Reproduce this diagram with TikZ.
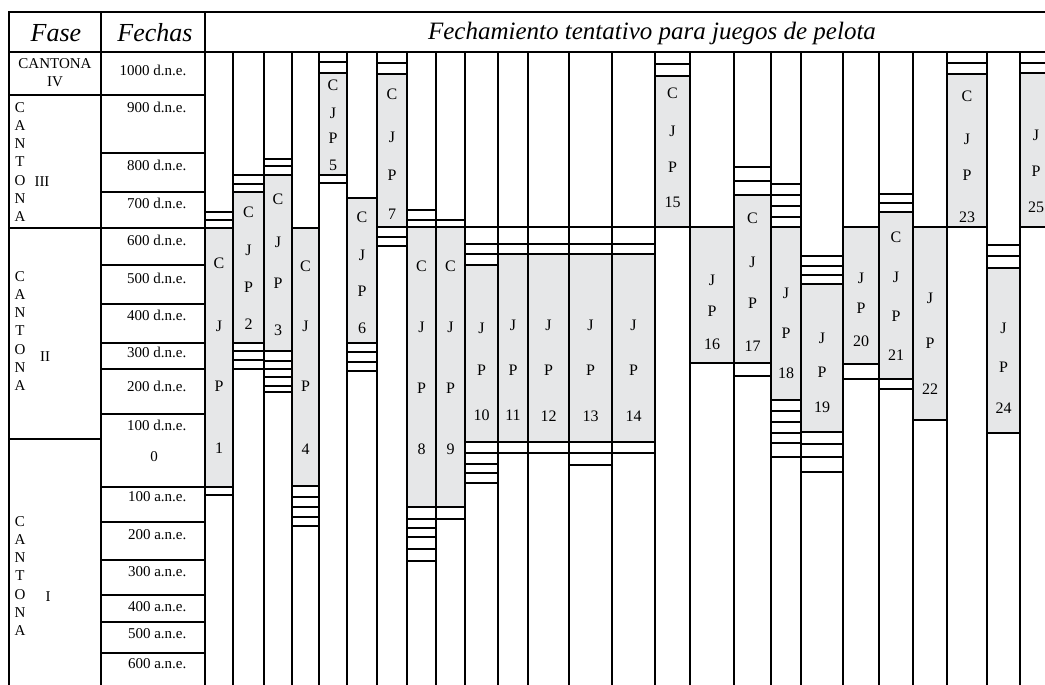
\documentclass[tikz,border=0pt]{standalone}
\usepackage{fontspec}
\setmainfont{Liberation Serif}
\definecolor{barra}{HTML}{E6E7E8}

\begin{document}
\begin{tikzpicture}[x=0.5pt,y=-0.5pt,line width=0.6pt,
  cabeza/.style={inner sep=0pt,font=\fontsize{13}{15}\selectfont\itshape},
  fecha/.style={anchor=east,inner sep=0pt,font=\fontsize{7.5}{9}\selectfont},
  fase/.style={inner sep=0pt,align=center,font=\fontsize{7.5}{9.1}\selectfont},
  letra/.style={inner sep=0pt,text height=5.3pt,text depth=0pt,font=\fontsize{8}{9}\selectfont},
  marco/.style={line width=0.9pt}]
  \useasboundingbox (0,0) rectangle (1045,685);

  \foreach \xa/\xb/\ya/\yb/\marcas in {
    205/233/228/487/{212,220,228,487,495},
    233/264/192/343/{175,184,192,343,351,360,369},
    264/292/175/351/{159,166,175,351,361,369,377,386,392},
    292/319/228/486/{228,486,497,507,517,526},
    319/347/73/175/{62,73,175,183},
    347/377/198/343/{198,343,352,362,371},
    377/407/74/227/{63,74,227,237,246},
    407/436/227/507/{210,220,227,507,519,528,537,549,561},
    436/465/227/507/{220,227,507,519},
    465/498/265/442/{227,244,254,265,442,453,464,473,483},
    498/528/254/442/{227,244,254,442,453},
    528/569/254/442/{227,244,254,442,453},
    569/612/254/442/{227,244,254,442,453,465},
    612/655/254/442/{227,244,254,442,453},
    655/690/76/227/{64,76,227},
    690/734/227/363/{227,363},
    734/771/195/363/{167,181,195,363,376},
    771/801/227/400/{184,195,206,217,227,400,411,422,433,443,457},
    801/843/284/432/{256,266,275,284,432,444,457,472},
    843/879/227/364/{227,364,379},
    879/913/212/379/{194,203,212,379,389},
    913/947/227/420/{227,420},
    947/987/74/227/{63,74,227},
    987/1020/268/433/{245,256,268,433},
    1020/1045/73/227/{63,73,227}}{
    \fill[barra] (\xa,\ya) rectangle (\xb,\yb);
    \foreach \m in \marcas \draw (\xa,\m) -- (\xb,\m);
  }

  \foreach \x in {233,264,292,319,347,377,407,436,465,498,528,569,612,655,690,734,771,801,843,879,913,947,987,1020}
    \draw (\x,52) -- (\x,685);
  \foreach \y in {95,153,192,228,265,304,343,369,414,487,522,560,595,622,653}
    \draw (101,\y) -- (205,\y);
  \foreach \y in {95,228,439}
    \draw (9,\y) -- (101,\y);
  \draw[marco] (1045,12) -- (9,12) -- (9,685);
  \draw (101,12) -- (101,685);
  \draw (205,12) -- (205,685);
  \draw (9,52) -- (1045,52);

  \node[cabeza] (fase) at (56,33) {Fase};
  \node[cabeza] (fechas) at (155,33) {Fechas};
  \node[cabeza,font=\fontsize{12.5}{15}\selectfont\itshape] (titulo) at (652,33) {Fechamiento tentativo para juegos de pelota};

  \node[fase] (c4) at (55,64) {CANTONA};
  \node[fase] (c4n) at (55,82) {IV};
  \node[fase] (c3) at (20,162) {C\\A\\N\\T\\O\\N\\A};
  \node[fase] (c3n) at (42,182) {III};
  \node[fase] (c2) at (20,331) {C\\A\\N\\T\\O\\N\\A};
  \node[fase] (c2n) at (45,357) {II};
  \node[fase] (c1) at (20,576) {C\\A\\N\\T\\O\\N\\A};
  \node[fase] (c1n) at (48,597) {I};

  \foreach \f/\fy [count=\i] in {1000 d.n.e./70, 900 d.n.e./107, 800 d.n.e./165, 700 d.n.e./203,
    600 d.n.e./240, 500 d.n.e./278, 400 d.n.e./315, 300 d.n.e./352, 200 d.n.e./386, 100 d.n.e./425,
    100 a.n.e./497, 200 a.n.e./535, 300 a.n.e./572, 400 a.n.e./607, 500 a.n.e./634, 600 a.n.e./664}
    \node[fecha] (fecha\i) at (187,\fy) {\f};
  \node[fecha,anchor=center] (cero) at (154,457) {0};

  \foreach \cx/\n/\textos in {
    219/1/{C/263,J/326,P/386,1/448},
    248.5/2/{C/212,J/250,P/287,2/324},
    278/3/{C/199,J/242,P/283,3/330},
    305.5/4/{C/266,J/326,P/386,4/449},
    333/5/{C/85,J/113,P/138,5/165},
    362/6/{C/217,J/255,P/291,6/328},
    392/7/{C/94,J/137,P/175,7/214},
    421.5/8/{C/266,J/327,P/388,8/449},
    450.5/9/{C/266,J/327,P/388,9/449},
    481.5/10/{J/328,P/370,10/415},
    513/11/{J/325,P/370,11/415},
    548.5/12/{J/325,P/370,12/416},
    590.5/13/{J/325,P/370,13/416},
    633.5/14/{J/325,P/370,14/416},
    672.5/15/{C/93,J/131,P/167,15/202},
    712/16/{J/280,P/311,16/344},
    752.5/17/{C/218,J/262,P/303,17/346},
    786/18/{J/293,P/333,18/373},
    822/19/{J/338,P/372,19/407},
    861/20/{J/278,P/308,20/341},
    896/21/{C/237,J/277,P/316,21/355},
    930/22/{J/298,P/343,22/389},
    967/23/{C/96,J/139,P/175,23/217},
    1003.5/24/{J/328,P/367,24/408},
    1036/25/{J/135,P/171,25/207}}{
    \foreach \t/\ty in \textos
      \node[letra] (j\n-\t) at (\cx,\ty) {\t};
  }
\end{tikzpicture}
\end{document}
